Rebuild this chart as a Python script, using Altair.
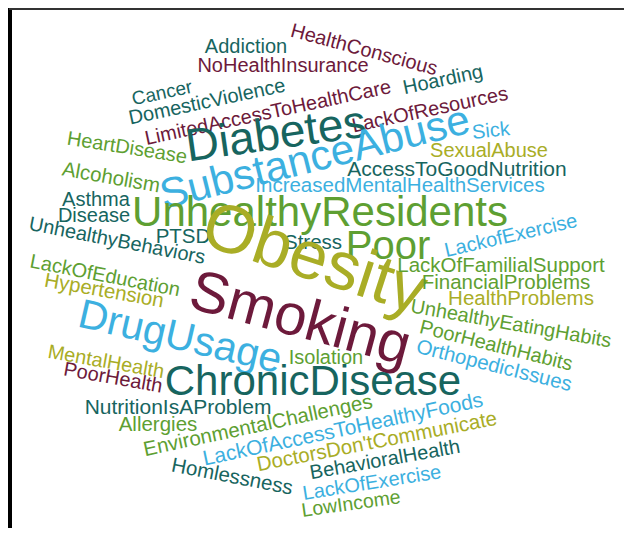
import altair as alt
import pandas as pd

words = [
    "HealthConscious", "Addiction", "NoHealthInsurance", "Cancer", "DomesticViolence",
    "LimitedAccessToHealthCare", "Hoarding", "LackOfResources", "Diabetes", "SubstanceAbuse",
    "Sick", "SexualAbuse", "AccessToGoodNutrition", "IncreasedMentalHealthServices",
    "HeartDisease", "Alcoholism", "Asthma", "Disease", "UnhealthyBehaviors",
    "UnhealthyResidents", "PTSD", "Stress", "Poor", "LackofExercise", "Obesity",
    "LackOfEducation", "Hypertension", "LackOfFamilialSupport", "FinancialProblems",
    "HealthProblems", "Smoking", "DrugUsage", "UnhealthyEatingHabits", "PoorHealthHabits",
    "OrthopedicIssues", "MentalHealth", "Isolation", "PoorHealth", "ChronicDisease",
    "NutritionIsAProblem", "Allergies", "EnvironmentalChallenges",
    "LackOfAccessToHealthyFoods", "DoctorsDon'tCommunicate", "BehavioralHealth",
    "Homlessness", "LackOfExercise", "LowIncome",
]
weights = [
    20, 20, 20, 19, 20,
    20, 20, 20, 46, 42,
    20, 20, 21, 20.5,
    20, 20.5, 20, 20, 20,
    42, 20.5, 20.5, 40, 20, 68,
    20, 20.5, 20.5, 20.5,
    20.5, 58, 41, 20, 20,
    20.5, 20, 20, 20, 42,
    21, 20.5, 20.5,
    21, 20.5, 20,
    20.5, 20, 19.5,
]
groups = [
    "maroon", "teal", "maroon", "teal", "teal",
    "maroon", "teal", "maroon", "teal", "blue",
    "blue", "olive", "teal", "blue",
    "green", "green", "teal", "teal", "teal",
    "green", "teal", "teal", "green", "blue", "olive",
    "green", "olive", "green", "green",
    "olive", "maroon", "blue", "green", "green",
    "blue", "olive", "green", "maroon", "teal",
    "teal", "green", "green",
    "blue", "olive", "teal",
    "teal", "blue", "green",
]
xs = [
    364, 246, 283, 162, 207,
    268, 443, 430, 276, 315,
    491, 489, 457, 400,
    127, 111, 96, 94, 117,
    320, 183, 313, 388, 511, 314,
    105, 104, 501, 506,
    521, 300, 180, 511, 496,
    494, 106, 326, 113, 313,
    178, 158, 258,
    343, 377, 385,
    232, 372, 351,
]
ys = [
    50, 47, 66, 93, 102,
    113, 80, 110, 135, 158,
    131, 151, 170, 186,
    148, 178, 200, 216, 241,
    213, 237, 243, 247, 236, 260,
    276, 291, 266, 283,
    299, 320, 338, 324, 346,
    366, 362, 358, 378, 382,
    408, 425, 426,
    430, 442, 460,
    477, 483, 504,
]
angles = [
    15, 0, 0, 348, 348,
    348, 348, 348, 352, 346,
    354, 0, 0, 0,
    9, 10, 0, 0, 11,
    0, 0, 0, 0, 347, 18,
    11, 10, 0, 0,
    0, 15, 13, 10, 14,
    14, 10, 0, 10, 0,
    0, 0, 348,
    348, 349, 350,
    11, 351, 352,
]

palette_names = ["teal", "maroon", "blue", "olive", "green"]
palette_colors = ["#17655f", "#6d1a3b", "#3cb0e0", "#a9ad26", "#5e9f32"]

df = pd.DataFrame({
    "word": words, "weight": weights, "group": groups,
    "x": xs, "y": ys, "angle": angles,
})

W, H = 616, 520

xscale = alt.Scale(domain=[8, 8 + W], nice=False, zero=False)
yscale = alt.Scale(domain=[8, 8 + H], nice=False, zero=False, reverse=True)

text = alt.Chart(df).mark_text(
    font="Liberation Sans", align="center", baseline="middle"
).encode(
    x=alt.X("x:Q", scale=xscale, axis=None),
    y=alt.Y("y:Q", scale=yscale, axis=None),
    text="word:N",
    size=alt.Size("weight:Q", scale=None, legend=None),
    angle=alt.Angle("angle:Q", scale=None),
    color=alt.Color("group:N", scale=alt.Scale(domain=palette_names, range=palette_colors), legend=None),
)

left_border = alt.Chart(df).mark_rule(color="black", strokeWidth=3).encode(
    x=alt.value(2), y=alt.value(0), y2=alt.value(H)
)
top_border = alt.Chart(df).mark_rule(color="#333333", strokeWidth=2).encode(
    x=alt.value(1), x2=alt.value(W), y=alt.value(1)
)

chart = alt.layer(left_border, top_border, text).properties(
    width=W, height=H, padding=0, autosize=alt.AutoSizeParams(type="none")
).configure_view(stroke=None)

chart.save("out.html", embed_options={"renderer": "svg", "actions": False})
